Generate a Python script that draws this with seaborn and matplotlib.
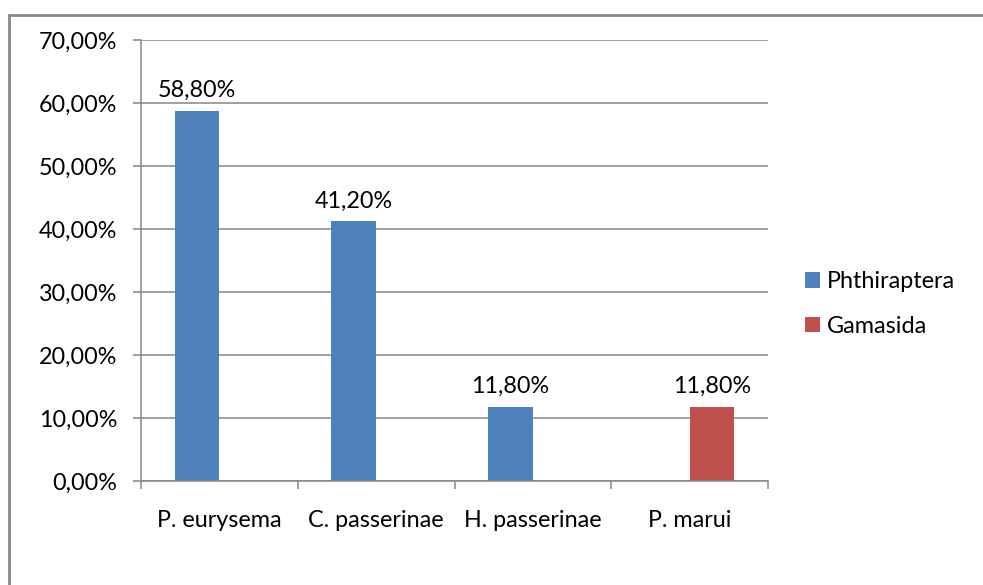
import matplotlib
matplotlib.use("Agg")
import matplotlib.pyplot as plt
import seaborn as sns
import pandas as pd
import numpy as np
from matplotlib.patches import Patch
from matplotlib.lines import Line2D
from matplotlib.ticker import FuncFormatter, FixedLocator

categories = ["P. eurysema", "C. passerinae", "H. passerinae", "P. marui"]
groups = ["Phthiraptera", "Phthiraptera", "Phthiraptera", "Gamasida"]
values = [0.588, 0.412, 0.118, 0.118]
series_order = ["Phthiraptera", "Gamasida"]
colors = ["#4F81BD", "#C0504D"]
yticks = [0.0, 0.1, 0.2, 0.3, 0.4, 0.5, 0.6, 0.7]

df = pd.DataFrame({"cat": categories, "group": groups, "val": values})

sns.set_theme(style="white")
plt.rcParams["font.family"] = ["Lato", "DejaVu Sans"]
FS = 16.8
TXT = "#000000"

W, H = 983, 585
fig = plt.figure(figsize=(W / 100, H / 100), dpi=100)
ax = fig.add_axes([141 / W, 1 - 481 / H, (768 - 141) / W, (481 - 40) / H])

sns.barplot(data=df, x="cat", y="val", hue="group", hue_order=series_order,
            order=categories, palette=colors, width=0.572, dodge=True,
            ax=ax, legend=False, saturation=1, linewidth=0)

ax.set_xlim(-0.5, 3.5)
ax.set_ylim(0, 0.7)
ax.yaxis.set_major_locator(FixedLocator(yticks))
ax.yaxis.set_major_formatter(FuncFormatter(lambda v, p: f"{v*100:.2f}%".replace(".", ",")))
ax.grid(axis="y", color="#868686", linewidth=1.1)
ax.set_axisbelow(True)
ax.set_xlabel("")
ax.set_ylabel("")

for s in ["top", "right"]:
    ax.spines[s].set_visible(False)
for s in ["left", "bottom"]:
    ax.spines[s].set_color("#868686")
    ax.spines[s].set_linewidth(1.1)

ax.tick_params(axis="y", which="major", length=6, width=1.1, color="#868686",
               pad=11, labelsize=FS, labelcolor=TXT, left=True)
ax.set_xticks(np.arange(-0.5, 4.0, 1.0), minor=True)
ax.tick_params(axis="x", which="major", length=0, pad=21, labelsize=FS, labelcolor=TXT)
ax.tick_params(axis="x", which="minor", length=6, width=1.1, color="#868686", bottom=True)

for cont in ax.containers:
    labels = []
    for bar in cont:
        h = bar.get_height()
        labels.append("" if (h is None or np.isnan(h) or h == 0) else f"{h*100:.2f}%".replace(".", ","))
    ax.bar_label(cont, labels=labels, padding=7, fontsize=FS, color=TXT)

handles = [Patch(facecolor=c, edgecolor="none") for c in colors]
fig.legend(handles, series_order, loc="center left", bbox_to_anchor=(805 / W, 1 - 304 / H),
           frameon=False, fontsize=FS, handlelength=0.64, handleheight=0.64,
           handletextpad=0.3, labelspacing=1.0, labelcolor=TXT,
           borderpad=0, borderaxespad=0)

bx, by = 9 / W, 1 - 15 / H
fig.add_artist(Line2D([bx, 1.0], [by, by], transform=fig.transFigure, color="#8a8a8a", linewidth=2))
fig.add_artist(Line2D([bx, bx], [0.0, by], transform=fig.transFigure, color="#8a8a8a", linewidth=2))

fig.savefig("out.png", dpi=100, facecolor="white")
